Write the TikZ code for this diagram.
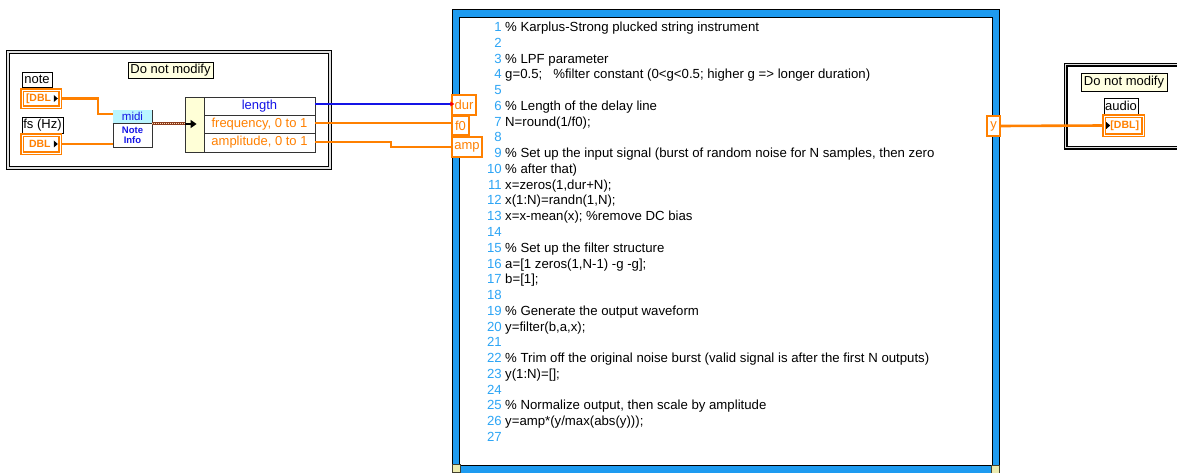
\documentclass[tikz,border=0pt]{standalone}
\usepackage{fontspec}
\setmainfont{Liberation Sans}
\usetikzlibrary{arrows.meta}
\definecolor{lvorange}{RGB}{255,128,0}
\definecolor{lvblue}{RGB}{20,20,230}
\definecolor{frameblue}{RGB}{30,155,240}
\definecolor{numblue}{RGB}{45,165,245}
\definecolor{noteyellow}{RGB}{255,255,225}
\definecolor{bundleyellow}{RGB}{255,255,215}
\definecolor{midicyan}{RGB}{185,245,255}
\definecolor{clusterbrown}{RGB}{140,60,30}
\definecolor{cornerfill}{RGB}{235,235,175}
\tikzset{
  lvframe/.style={draw=black, line width=1.3pt, double=white!75!gray, double distance=1.2pt, inner sep=0pt},
  tipbox/.style={draw=black, fill=noteyellow, line width=0.8pt, inner sep=0pt, font=\fontsize{13}{13}\selectfont},
  lblbox/.style={draw=black, fill=white, line width=0.8pt, inner sep=0pt, font=\fontsize{13}{13}\selectfont},
  dblterm/.style={draw=lvorange, line width=1.6pt, double=white, double distance=0.9pt, fill=white, inner sep=0pt, text=lvorange, font=\fontsize{10.5}{10.5}\bfseries},
  scterm/.style={draw=lvorange, line width=1.4pt, fill=white, inner sep=0pt, text=lvorange, font=\fontsize{13}{13}\selectfont},
  thinwire/.style={draw=lvorange, line width=1.3pt},
  thickwire/.style={draw=lvorange, line width=2.6pt},
  codeline/.style={anchor=base west, inner sep=0pt, font=\fontsize{13.2}{13.2}\selectfont},
  numline/.style={anchor=base east, inner sep=0pt, text=numblue, font=\fontsize{13.2}{13.2}\selectfont},
  corner/.style={draw=black!70!olive, fill=cornerfill, line width=0.6pt, minimum width=8pt, minimum height=8pt, inner sep=0pt},
}
\begin{document}
\begin{tikzpicture}[x=1pt,y=-1pt]
\useasboundingbox (0,0) rectangle (1177,473);
\clip (0,0) rectangle (1177,473);
\fill[white] (0,0) rectangle (1177,473);

% ---------- left block ----------
\node[lvframe, minimum width=322pt, minimum height=116pt] (frameL) at (169,110) {};
\node[tipbox, minimum width=85pt, minimum height=16pt] (tipL) at (170.5,70) {Do not modify};
\node[lblbox, minimum width=30pt, minimum height=15pt] (noteL) at (37,79.5) {note};
\node[dblterm, minimum width=38pt, minimum height=17pt, text width=30pt, align=left] (noteT) at (41,98.5) {[DBL};
\node[lblbox, minimum width=41pt, minimum height=16pt] (fsL) at (42.5,125) {fs (Hz)};
\node[dblterm, minimum width=38pt, minimum height=18pt, text width=30pt, align=left] (fsT) at (41,144) {\hspace{3pt}DBL};
\fill[black] ([xshift=-7pt,yshift=3.5pt]noteT.east) -- ++(0,7) -- ++(4,-3.5) -- cycle;
\fill[black] ([xshift=-7pt,yshift=3.5pt]fsT.east) -- ++(0,7) -- ++(4,-3.5) -- cycle;

% midi node
\node[draw=black!80, line width=0.8pt, fill=white, minimum width=39pt, minimum height=37pt, inner sep=0pt] (midi) at (132.5,128.5) {};
\fill[midicyan] ([shift={(0.4,0.4)}]midi.north west) rectangle ([xshift=-0.4pt]midi.east |- 0,123);
\draw[black!80, line width=0.8pt] (midi.west |- 0,123) -- (midi.east |- 0,123);
\node[inner sep=0pt, text=lvblue, font=\fontsize{11.5}{11.5}\selectfont] (midiT) at (132.5,116.5) {midi};
\node[inner sep=0pt, text=lvblue, align=center, font=\fontsize{9.5}{10}\bfseries] (midiN) at (132.5,135.5) {Note\\Info};

% unbundle node
\node[draw=black!80, line width=0.8pt, fill=bundleyellow, minimum width=130pt, minimum height=55pt, inner sep=0pt] (bundle) at (250,124.5) {};
\node[draw=black!80, line width=0.8pt, fill=white, minimum width=111pt, minimum height=18pt, inner sep=0pt, text=lvblue, font=\fontsize{13}{13}\selectfont] (rlen) at (259.5,106) {length};
\node[draw=black!80, line width=0.8pt, fill=white, minimum width=111pt, minimum height=18pt, inner sep=0pt, text=lvorange, font=\fontsize{13}{13}\selectfont] (rfreq) at (259.5,124) {frequency, 0 to 1};
\node[draw=black!80, line width=0.8pt, fill=white, minimum width=111pt, minimum height=19pt, inner sep=0pt, text=lvorange, font=\fontsize{13}{13}\selectfont] (ramp) at (259.5,142.5) {amplitude, 0 to 1};

% wires inside left block
\draw[thickwire] (noteT.east) -- (98,98.5) -- (98,114) -- (midi.west |- 0,114);
\draw[thinwire] (fsT.east) -- (midi.west |- fsT.east);
\draw[clusterbrown, line width=3pt] (midi.east |- 0,124) -- (bundle.west |- 0,124);
\draw[white!70!orange, line width=1pt, dash pattern=on 1pt off 1pt] (midi.east |- 0,124) -- (bundle.west |- 0,124);
\draw[black, line width=1.4pt, -{Triangle[length=6pt,width=8pt]}] (bundle.west |- 0,124) -- ++(12,0);

% ---------- MathScript node ----------
\node[draw=black, line width=0.8pt, fill=frameblue, minimum width=547pt, minimum height=480pt, inner sep=0pt, anchor=north west] (script) at (452,9) {};
\node[draw=black, line width=0.8pt, fill=white, minimum width=533pt, minimum height=448pt, inner sep=0pt, anchor=north west] (scriptin) at (459,17) {};
\node[corner] (cornerL) at (456,468.5) {};
\node[corner] (cornerR) at (995,469.5) {};

\node[scterm, minimum width=24pt, minimum height=20pt] (dur) at (464,105) {dur};
\node[scterm, minimum width=17pt, minimum height=19pt] (f0) at (460.5,125.5) {f0};
\node[scterm, minimum width=30pt, minimum height=20pt] (amp) at (467,147) {amp};
\node[scterm, minimum width=13pt, minimum height=20pt] (yout) at (993.5,126) {y};

% wires to MathScript
\draw[lvblue, line width=1.2pt] (rlen.east |- 0,104) -- (dur.west |- 0,104);
\fill[red] (dur.west |- 0,104) ++(-1,-2.5) -- ++(0,5) -- ++(4,-2.5) -- cycle;
\draw[thinwire] (rfreq.east |- 0,123) -- (f0.west |- 0,123);
\draw[thinwire] (ramp.east |- 0,142) -- (391,142) -- (391,147) -- (amp.west);

% code
\foreach \i in {1,...,27}{
  \pgfmathsetmacro\yy{31.5+15.77*(\i-1)}
  \node[numline] (num\i) at (502,\yy) {\i};
}
\foreach \i/\t in {
 1/{\% Karplus-Strong plucked string instrument},
 3/{\% LPF parameter},
 4/{g=0.5;\hspace{11pt}\%filter constant (0<g<0.5; higher g => longer duration)},
 6/{\% Length of the delay line},
 7/{N=round(1/f0);},
 9/{\% Set up the input signal (burst of random noise for N samples, then zero},
 10/{\% after that)},
 11/{x=zeros(1,dur+N);},
 12/{x(1:N)=randn(1,N);},
 13/{x=x-mean(x); \%remove DC bias},
 15/{\% Set up the filter structure},
 16/{a=[1 zeros(1,N-1) -g -g];},
 17/{b=[1];},
 19/{\% Generate the output waveform},
 20/{y=filter(b,a,x);},
 22/{\% Trim off the original noise burst (valid signal is after the first N outputs)},
 23/{y(1:N)=[];},
 25/{\% Normalize output, then scale by amplitude},
 26/{y=amp*(y/max(abs(y)));}
}{
  \pgfmathsetmacro\yy{31.5+15.77*(\i-1)}
  \node[codeline] (code\i) at (505,\yy) {\t};
}

% ---------- right block ----------
\node[lvframe, minimum width=125pt, minimum height=83pt, anchor=north west] (frameR) at (1065,64) {};
\node[tipbox, minimum width=86pt, minimum height=18pt] (tipR) at (1124,82) {Do not modify};
\node[lblbox, minimum width=34pt, minimum height=16pt] (audioL) at (1121,106) {audio};
\node[dblterm, minimum width=39pt, minimum height=19pt, text width=31pt, align=right] (audioT) at (1123.5,125.5) {[DBL]};
\fill[black] ([xshift=3pt,yshift=3.5pt]audioT.west) -- ++(0,7) -- ++(4,-3.5) -- cycle;
\draw[thickwire] (yout.east) -- (audioT.west);
\end{tikzpicture}
\end{document}
